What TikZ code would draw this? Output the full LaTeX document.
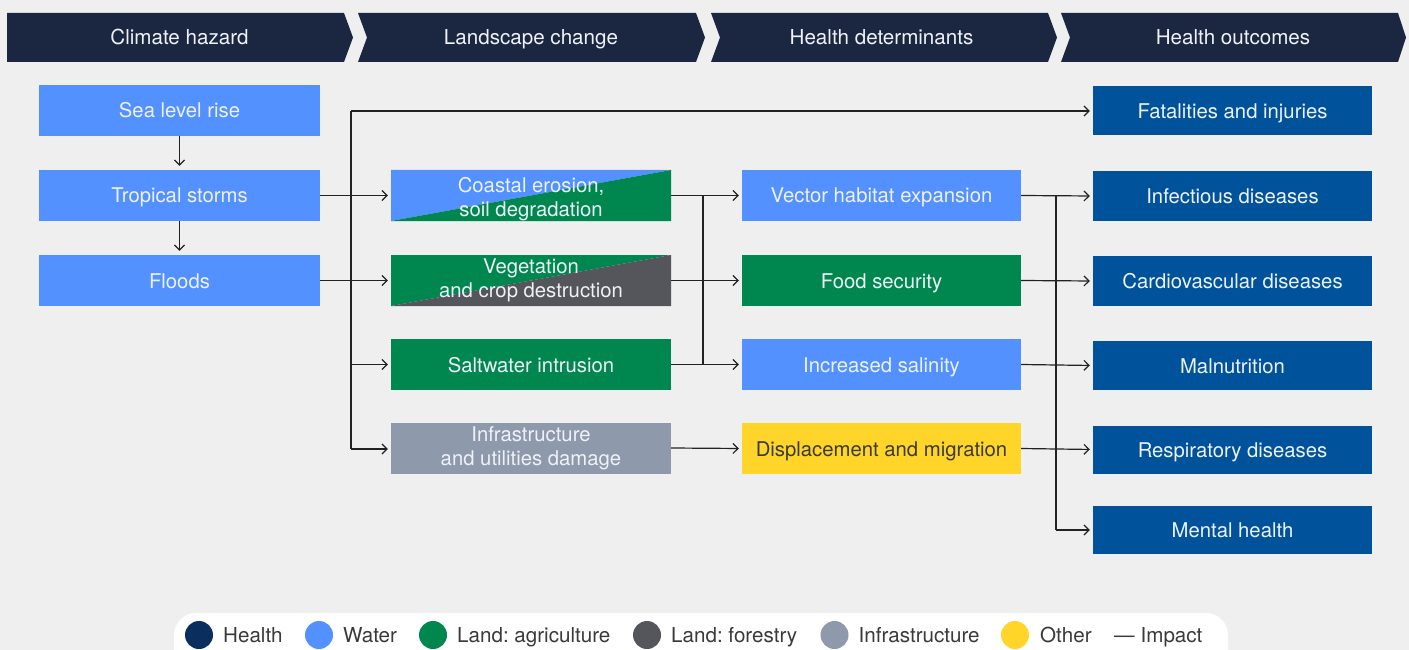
\documentclass[tikz,border=0pt]{standalone}
\usepackage{fontspec}
\setmainfont{TeX Gyre Heros}
\usetikzlibrary{arrows.meta}
\frenchspacing
\definecolor{bg}{HTML}{EFEFEF}
\definecolor{navy}{HTML}{1B2741}
\definecolor{water}{HTML}{5291FF}
\definecolor{agri}{HTML}{00874F}
\definecolor{forest}{HTML}{54565B}
\definecolor{infra}{HTML}{8E99AB}
\definecolor{other}{HTML}{FFD52A}
\definecolor{outcome}{HTML}{00529B}
\definecolor{healthleg}{HTML}{0A2F5E}
\definecolor{boxtext}{HTML}{EEF2F8}
\definecolor{legtext}{HTML}{3A3A3A}
\definecolor{linec}{HTML}{222222}
\newcommand{\topstrut}{\rule{0pt}{22.5pt}}
\tikzset{
  box/.style={minimum width=280pt, minimum height=51pt, inner sep=0pt, text=boxtext,
    font=\fontsize{20.3}{24}\selectfont, text height=17pt, text depth=2pt},
  box2/.style={minimum width=280pt, minimum height=51pt, inner sep=0pt, text=boxtext,
    font=\fontsize{20.3}{24}\selectfont, align=center},
  outbox/.style={box, fill=outcome, minimum height=49pt},
  split/.style 2 args={path picture={
    \fill[#1] (path picture bounding box.north west) -- (path picture bounding box.north east)
      -- (path picture bounding box.south west) -- cycle;
    \fill[#2] (path picture bounding box.north east) -- (path picture bounding box.south east)
      -- (path picture bounding box.south west) -- cycle;}},
  hdr/.style={text=boxtext, font=\fontsize{20.6}{24}\selectfont, inner sep=0pt, text height=17pt, text depth=2pt},
  imp/.style={draw=linec, line width=1.2pt, -{Straight Barb[length=5pt,width=10pt,line width=1.2pt]}, shorten >=3pt},
  link/.style={draw=linec, line width=1.2pt},
  legdot/.style={circle, minimum size=28pt, inner sep=0pt},
  legtxt/.style={text=legtext, font=\fontsize{20.6}{24}\selectfont, inner sep=0pt, anchor=base west},
}
\begin{document}
\begin{tikzpicture}[x=1pt,y=-1pt]
\useasboundingbox (0,0) rectangle (1409,650);
\fill[bg] (0,0) rectangle (1409,650);

% header chevrons
\fill[navy] (7,13) -- (344,13) -- (353,37.5) -- (344,62) -- (7,62) -- cycle;
\fill[navy] (358,13) -- (696,13) -- (705,37.5) -- (696,62) -- (358,62) -- (367,37.5) -- cycle;
\fill[navy] (711,13) -- (1048,13) -- (1057,37.5) -- (1048,62) -- (711,62) -- (720,37.5) -- cycle;
\fill[navy] (1061,13) -- (1398,13) -- (1406,37.5) -- (1398,62) -- (1061,62) -- (1070,37.5) -- cycle;
\node[hdr] (h1) at (179.5,37.5) {Climate hazard};
\node[hdr] (h2) at (531,37.5) {Landscape change};
\node[hdr] (h3) at (881.5,37.5) {Health determinants};
\node[hdr] (h4) at (1233,37.5) {Health outcomes};

% column 1
\node[box, fill=water, minimum width=281pt] (sea) at (179.5,110.5) {Sea level rise};
\node[box, fill=water, minimum width=281pt] (storms) at (179.5,195.5) {Tropical storms};
\node[box, fill=water, minimum width=281pt] (floods) at (179.5,280.5) {Floods};

% column 2
\node[box2, split={water}{agri}] (coastal) at (531,195.5) {\topstrut Coastal erosion,\\soil degradation};
\node[box2, split={agri}{forest}] (veg) at (531,280.5) {Vegetation\\and crop destruction};
\node[box, fill=agri] (salt) at (531,364.5) {Saltwater intrusion};
\node[box2, fill=infra] (infra) at (531,448) {Infrastructure\\and utilities damage};

% column 3
\node[box, fill=water, minimum width=279pt] (vector) at (881.5,195.5) {Vector habitat expansion};
\node[box, fill=agri, minimum width=279pt] (food) at (881.5,280.5) {Food security};
\node[box, fill=water, minimum width=279pt] (salinity) at (881.5,364.5) {Increased salinity};
\node[box, fill=other, minimum width=279pt, text=legtext] (displ) at (881.5,448.5) {Displacement and migration};

% column 4
\node[outbox, minimum width=279pt] (fatal) at (1232.5,111) {Fatalities and injuries};
\node[outbox, minimum width=279pt, minimum height=50pt] (infect) at (1232.5,196) {Infectious diseases};
\node[outbox, minimum width=279pt, minimum height=50pt] (cardio) at (1232.5,281) {Cardiovascular diseases};
\node[outbox, minimum width=279pt] (malnut) at (1232.5,365.5) {Malnutrition};
\node[outbox, minimum width=279pt, minimum height=48pt] (resp) at (1232.5,449.5) {Respiratory diseases};
\node[outbox, minimum width=279pt, minimum height=48pt] (mental) at (1232.5,529.5) {Mental health};

% column 1 internal arrows
\draw[imp, shorten >=4pt] (sea) -- (storms);
\draw[imp, shorten >=4pt] (storms) -- (floods);

% tree 1
\coordinate (t1a) at (351,111);
\coordinate (t1b) at (351,449);
\draw[link] (t1a) -- (t1b);
\draw[imp] (t1a) -- (fatal.west);
\draw[imp] (storms.east) -- (coastal.west);
\draw[imp] (floods.east) -- (veg.west);
\draw[imp] (t1a |- salt.west) -- (salt.west);
\draw[imp] (t1b) -- (t1b -| infra.west);

% tree 2
\coordinate (t2a) at (703,196);
\coordinate (t2b) at (703,365);
\draw[link] (t2a) -- (t2b);
\draw[imp] (coastal.east) -- (vector.west);
\draw[imp] (veg.east) -- (food.west);
\draw[imp] (salt.east) -- (salinity.west);
\draw[imp] (infra.east) -- (displ.west);

% tree 3
\coordinate (t3a) at (1056,196);
\coordinate (t3b) at (1056,530);
\draw[link] (t3a) -- (t3b);
\draw[imp] (vector.east) -- (infect.west);
\draw[imp] (food.east) -- (cardio.west);
\draw[imp] (salinity.east) -- (malnut.west);
\draw[imp] (displ.east) -- (resp.west);
\draw[imp] (t3b) -- (t3b -| mental.west);

% legend
\begin{scope}
\clip (0,0) rectangle (1409,650);
\fill[white, rounded corners=22pt] (174,613) rectangle (1228,680);
\end{scope}
\node[legdot, fill=healthleg] (d1) at (199,635) {};
\node[legtxt] (l1) at (223,642) {Health};
\node[legdot, fill=water] (d2) at (319,635) {};
\node[legtxt] (l2) at (343,642) {Water};
\node[legdot, fill=agri] (d3) at (433,635) {};
\node[legtxt] (l3) at (457,642) {Land: agriculture};
\node[legdot, fill=forest] (d4) at (647,635) {};
\node[legtxt] (l4) at (671,642) {Land: forestry};
\node[legdot, fill=infra] (d5) at (834.5,635) {};
\node[legtxt] (l5) at (858.5,642) {Infrastructure};
\node[legdot, fill=other] (d6) at (1015,635) {};
\node[legtxt] (l6) at (1040,642) {Other};
\node[legtxt] (l7) at (1114,642) {— Impact};
\end{tikzpicture}
\end{document}
